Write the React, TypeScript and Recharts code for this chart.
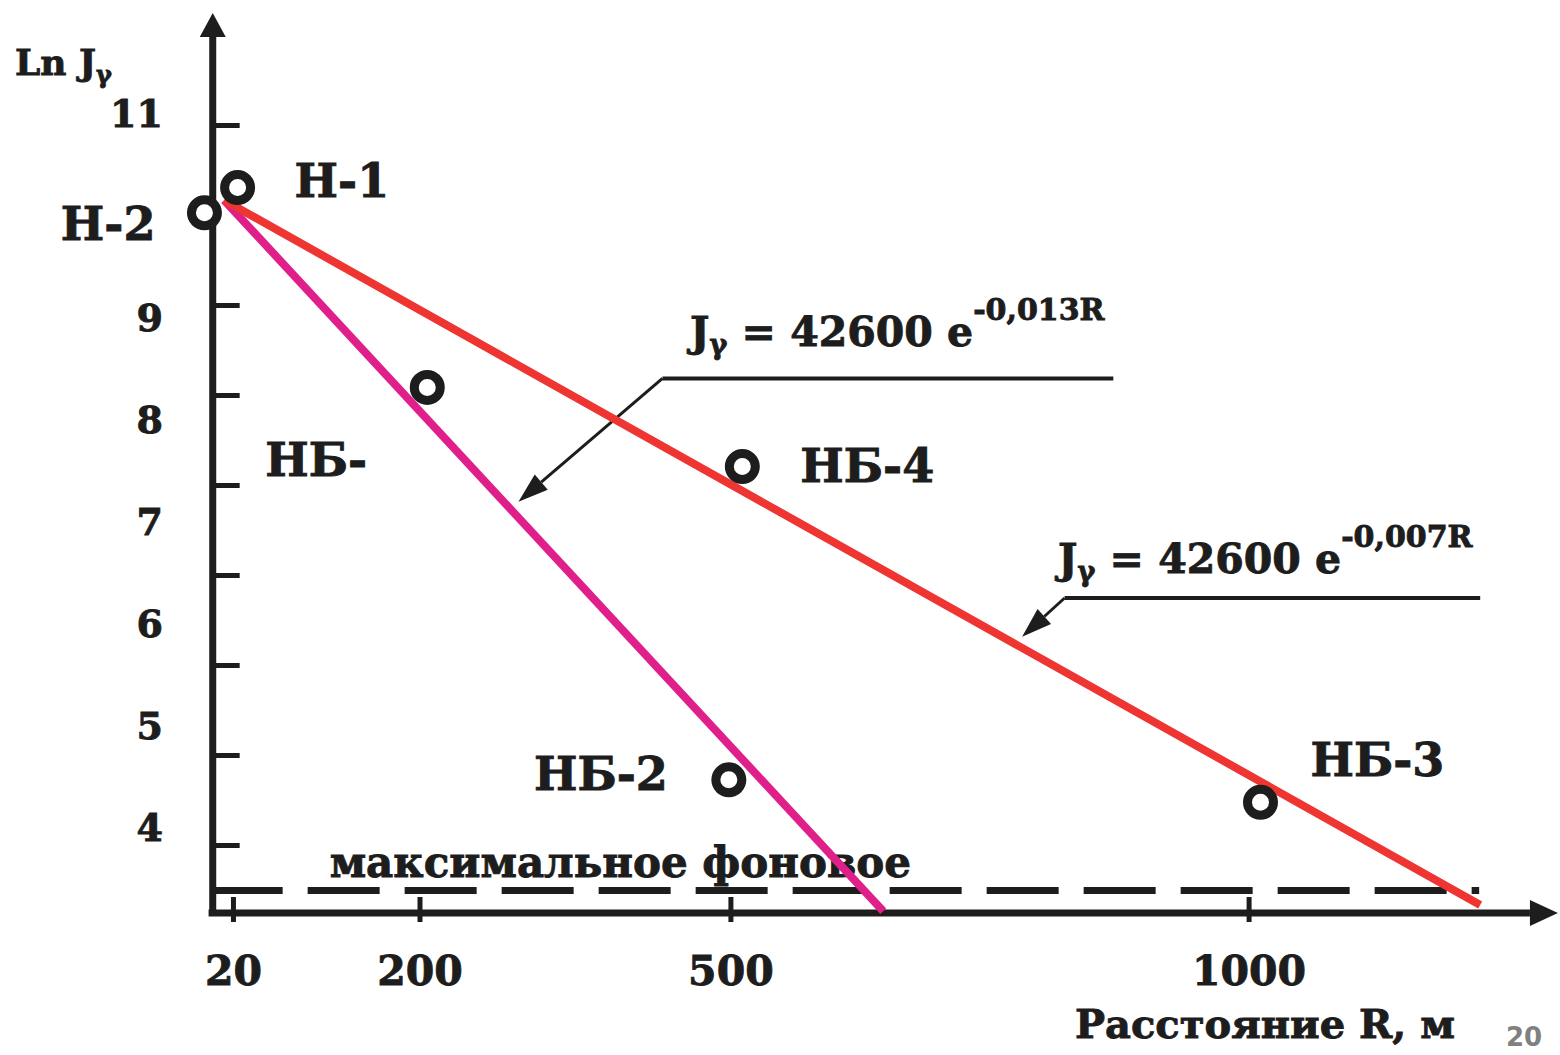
import React from "react";
import { ComposedChart, Line, Scatter, XAxis, YAxis, ReferenceLine } from "recharts";

// observation wells: distance R (m) and Ln Jγ
const wellNames = ["Н-1", "Н-2", "НБ-", "НБ-4", "НБ-2", "НБ-3"];
const wellR = [24, -8, 207, 511, 498, 1011];
const wellLnJ = [10.31, 10.03, 8.09, 7.21, 3.73, 3.48];

// fitted lines, start and end
const steepR = [11, 647];
const steepLnJ = [10.17, 2.27];
const gentleR = [11, 1223];
const gentleLnJ = [10.17, 2.34];

// maximum background level
const backgroundR = [-2, 1222];
const backgroundLnJ = 2.5;

const xTicks = [20, 200, 500, 1000];
const yTickLabels = [11, 9, 8, 7, 6, 5, 4];
const yTickMarks = [11, 9, 8, 7, 6, 5, 4, 3];

const wells = wellNames.map((name, i) => ({ name, r: wellR[i], lnJ: wellLnJ[i] }));
const steepFit = steepR.map((r, i) => ({ r, lnJ: steepLnJ[i] }));
const gentleFit = gentleR.map((r, i) => ({ r, lnJ: gentleLnJ[i] }));

const INK = "#1d1d1d";
const RED = "#ee3531";
const MAGENTA = "#e0208a";
const FONT = "'DejaVu Serif', 'Liberation Serif', serif";
// scanned text is heavier than the font, thicken it a little
const heavy = { stroke: INK, strokeWidth: 0.9 };

const labelPos: Record<string, { dx: number; dy: number; anchor: "start" | "end" }> = {
  "Н-1": { dx: 57, dy: 9, anchor: "start" },
  "Н-2": { dx: -49, dy: 27, anchor: "end" },
  "НБ-": { dx: -162, dy: 89, anchor: "start" },
  "НБ-4": { dx: 58, dy: 15, anchor: "start" },
  "НБ-2": { dx: -61, dy: 10, anchor: "end" },
  "НБ-3": { dx: 50, dy: -26, anchor: "start" },
};

// formula leaders (data coords)
const leaders = [
  { corner: { x: 434, y: 8.19 }, end: { x: 869, y: 8.19 }, tip: { x: 295, y: 6.82 } },
  { corner: { x: 822, y: 5.75 }, end: { x: 1223, y: 5.75 }, tip: { x: 781, y: 5.32 } },
];

const arrowShape = (len: number, half: number, color: string, width: number) => (props: any) => {
  const { x1, y1, x2, y2 } = props;
  const ang = Math.atan2(y2 - y1, x2 - x1);
  const bx = x2 - Math.cos(ang) * len;
  const by = y2 - Math.sin(ang) * len;
  const nx = -Math.sin(ang) * half;
  const ny = Math.cos(ang) * half;
  return (
    <g>
      <line x1={x1} y1={y1} x2={bx} y2={by} stroke={color} strokeWidth={width} />
      <polygon points={`${x2},${y2} ${bx + nx},${by + ny} ${bx - nx},${by - ny}`} fill={color} />
    </g>
  );
};

const WellMark = (props: any) => {
  const { cx, cy, payload } = props;
  const p = labelPos[payload.name];
  return (
    <g>
      <circle cx={cx} cy={cy} r={13} fill="#fff" stroke={INK} strokeWidth={9} />
      <text x={cx + p.dx} y={cy + p.dy} textAnchor={p.anchor} fontFamily={FONT} fontWeight="bold" fontSize={46} fill={INK} {...heavy}>
        {payload.name}
      </text>
    </g>
  );
};

const XLabel = (props: any) => {
  const { x, y, payload } = props;
  return (
    <g>
      <line x1={x} x2={x} y1={y - 16} y2={y + 9} stroke={INK} strokeWidth={5} />
      <text x={x} y={y + 72} textAnchor="middle" fontFamily={FONT} fontWeight="bold" fontSize={41} fill={INK} {...heavy}>
        {payload.value}
      </text>
    </g>
  );
};

const YLabel = (props: any) => {
  const { x, y, payload } = props;
  return (
    <text x={x} y={y + 14} textAnchor="end" fontFamily={FONT} fontWeight="bold" fontSize={38} fill={INK} {...heavy}>
      {payload.value}
    </text>
  );
};

const backgroundLabel = (props: any) => {
  const { viewBox } = props;
  return (
    <text x={viewBox.x + 119} y={viewBox.y - 14} fontFamily={FONT} fontWeight="bold" fontSize={42} fill={INK} {...heavy}>
      максимальное фоновое
    </text>
  );
};

export default function App() {
  return (
    <div style={{ position: "absolute", left: 0, top: 0, width: 1560, height: 1055, background: "#fff" }}>
      <ComposedChart width={1560} height={1055} margin={{ top: 13, right: 0, bottom: 0, left: 0 }}>
        <XAxis
          type="number"
          dataKey="r"
          domain={[-20, 1300]}
          ticks={xTicks}
          interval={0}
          height={142}
          axisLine={false}
          tickLine={false}
          tickSize={0}
          tickMargin={0}
          tick={XLabel}
        />
        <YAxis yAxisId="main" type="number" dataKey="lnJ" domain={[2.25, 12.25]} hide width={0} />
        <YAxis
          yAxisId="lab"
          type="number"
          domain={[3.16, 11.975]}
          allowDataOverflow
          ticks={yTickLabels}
          interval={0}
          width={192}
          axisLine={false}
          tickLine={false}
          tickSize={0}
          tickMargin={29}
          tick={YLabel}
        />

        <ReferenceLine
          yAxisId="main"
          ifOverflow="visible"
          segment={[{ x: backgroundR[0], y: backgroundLnJ }, { x: backgroundR[1], y: backgroundLnJ }]}
          stroke={INK}
          strokeWidth={7}
          strokeDasharray="72 25"
          label={backgroundLabel}
        />
        {yTickMarks.map((v) => (
          <ReferenceLine
            key={v}
            yAxisId="main"
            ifOverflow="visible"
            segment={[{ x: 0, y: v }, { x: 26, y: v }]}
            stroke={INK}
            strokeWidth={5}
          />
        ))}
        <ReferenceLine
          yAxisId="main"
          ifOverflow="visible"
          segment={[{ x: 0, y: 2.25 }, { x: 0, y: 12.25 }]}
          shape={arrowShape(24, 13, INK, 7)}
        />
        <ReferenceLine
          yAxisId="main"
          ifOverflow="visible"
          segment={[{ x: -4, y: 2.25 }, { x: 1298, y: 2.25 }]}
          shape={arrowShape(28, 13, INK, 7)}
        />
        {leaders.map((l, i) => (
          <ReferenceLine
            key={"h" + i}
            yAxisId="main"
            ifOverflow="visible"
            segment={[l.corner, l.end]}
            stroke={INK}
            strokeWidth={4}
          />
        ))}
        {leaders.map((l, i) => (
          <ReferenceLine
            key={"d" + i}
            yAxisId="main"
            ifOverflow="visible"
            segment={[l.corner, l.tip]}
            shape={arrowShape(30, 10, INK, 3)}
          />
        ))}

        <Line yAxisId="main" data={steepFit} dataKey="lnJ" type="linear" stroke={MAGENTA} strokeWidth={8} dot={false} isAnimationActive={false} />
        <Line yAxisId="main" data={gentleFit} dataKey="lnJ" type="linear" stroke={RED} strokeWidth={8} dot={false} isAnimationActive={false} />
        <Scatter yAxisId="main" data={wells} dataKey="lnJ" shape={WellMark} isAnimationActive={false} />
      </ComposedChart>

      <svg width={1560} height={1055} style={{ position: "absolute", left: 0, top: 0, pointerEvents: "none" }}>
        <g fontFamily={FONT} fontWeight="bold" fill={INK} {...heavy}>
          <text x={15} y={75} fontSize={36}>
            Ln J<tspan fontSize={24} dy={8}>γ</tspan>
          </text>
          <text x={690} y={346} fontSize={41}>
            J<tspan fontSize={27} dy={8}>γ</tspan>
            <tspan dy={-8}> = 42600 e</tspan>
            <tspan fontSize={30} dy={-26}>-0,013R</tspan>
          </text>
          <text x={1058} y={573} fontSize={41}>
            J<tspan fontSize={27} dy={8}>γ</tspan>
            <tspan dy={-8}> = 42600 e</tspan>
            <tspan fontSize={30} dy={-26}>-0,007R</tspan>
          </text>
          <text x={1075} y={1038} fontSize={40}>
            Расстояние R, м
          </text>
        </g>
        <text x={1506} y={1046} fontFamily="'DejaVu Sans', sans-serif" fontWeight="bold" fontSize={26} fill="#808080">
          20
        </text>
      </svg>
    </div>
  );
}
